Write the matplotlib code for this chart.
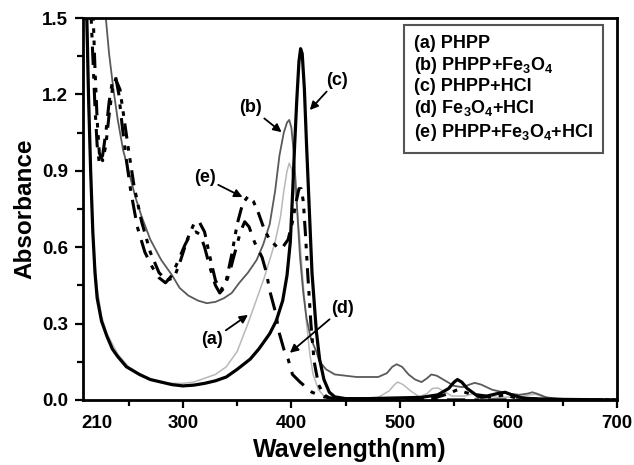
import numpy as np
import matplotlib.pyplot as plt
from matplotlib.lines import Line2D

plt.rcParams['font.family'] = ['Liberation Sans', 'DejaVu Sans']
plt.rcParams['font.weight'] = 'bold'
plt.rcParams['mathtext.fontset'] = 'custom'
plt.rcParams['mathtext.rm'] = 'Liberation Sans:bold'
plt.rcParams['mathtext.bf'] = 'Liberation Sans:bold'

# (a) PHPP
wl_a = [210, 212, 214, 216, 218, 221, 225, 230, 240, 250, 260, 270, 280, 290, 300, 310, 320, 330, 340, 350,
        360, 365, 370, 375, 380, 385, 390, 393, 396, 398, 400, 402, 405, 408, 411, 414, 417, 420, 425, 430,
        440, 460, 480, 490, 495, 498, 503, 510, 518, 525, 530, 535, 540, 548, 560, 568, 575, 590, 610, 620,
        625, 630, 640, 660, 700]
abs_a = [1.6, 1.3, 1.0, 0.75, 0.58, 0.44, 0.33, 0.26, 0.18, 0.13, 0.1, 0.08, 0.07, 0.065, 0.065, 0.07, 0.085, 0.1, 0.13, 0.19,
         0.3, 0.36, 0.42, 0.48, 0.55, 0.62, 0.72, 0.82, 0.9, 0.93, 0.91, 0.86, 0.76, 0.62, 0.45, 0.3, 0.18, 0.1, 0.04, 0.015,
         0.008, 0.005, 0.01, 0.035, 0.06, 0.07, 0.06, 0.035, 0.012, 0.025, 0.045, 0.047, 0.035, 0.015, 0.015, 0.025, 0.02, 0.01, 0.012, 0.02,
         0.022, 0.015, 0.005, 0.002, 0.0]

# (b) PHPP+Fe3O4
wl_b = [229, 232, 236, 240, 245, 250, 256, 262, 270, 280, 290, 297, 305, 314, 322, 330, 338, 345, 352, 360,
        368, 374, 380, 385, 389, 393, 396, 398, 400, 402, 404, 406, 408, 411, 414, 418, 423, 426, 432, 440,
        460, 480, 488, 493, 497, 502, 508, 514, 520, 525, 529, 534, 540, 550, 558, 564, 569, 575, 585, 600,
        610, 618, 622, 626, 635, 645, 660, 700]
abs_b = [1.5, 1.36, 1.22, 1.1, 0.98, 0.9, 0.8, 0.72, 0.63, 0.55, 0.49, 0.44, 0.41, 0.39, 0.38, 0.385, 0.4, 0.42, 0.46, 0.5,
         0.55, 0.61, 0.69, 0.82, 0.96, 1.05, 1.09, 1.1, 1.07, 0.98, 0.85, 0.7, 0.56, 0.42, 0.32, 0.24, 0.19, 0.15, 0.12, 0.1,
         0.09, 0.09, 0.105, 0.13, 0.14, 0.13, 0.1, 0.08, 0.07, 0.085, 0.1, 0.095, 0.08, 0.055, 0.05, 0.06, 0.067, 0.06, 0.04, 0.025,
         0.02, 0.025, 0.03, 0.025, 0.01, 0.005, 0.002, 0.0]

# (c) PHPP+HCl
wl_c = [211, 213, 215, 217, 219, 221, 225, 230, 235, 240, 248, 260, 270, 280, 290, 300, 310, 320, 330, 340,
        350, 362, 370, 380, 386, 392, 396, 399, 401, 403, 405, 407, 408.5, 410, 412, 414, 416, 419, 423, 426,
        430, 435, 440, 450, 470, 500, 520, 535, 545, 550, 553, 557, 562, 570, 580, 590, 597, 603, 615, 650, 700]
abs_c = [1.6, 1.2, 0.9, 0.66, 0.5, 0.4, 0.31, 0.25, 0.2, 0.17, 0.13, 0.1, 0.08, 0.07, 0.06, 0.055, 0.058, 0.065, 0.075, 0.09,
         0.12, 0.16, 0.2, 0.26, 0.31, 0.39, 0.49, 0.62, 0.8, 1.0, 1.18, 1.33, 1.38, 1.36, 1.22, 1.0, 0.8, 0.5, 0.27, 0.16,
         0.08, 0.03, 0.012, 0.005, 0.005, 0.008, 0.01, 0.02, 0.045, 0.07, 0.08, 0.07, 0.045, 0.02, 0.015, 0.025, 0.03, 0.02, 0.005, 0.002, 0.0]

# (d) Fe3O4+HCl
wl_d = [215, 217, 219, 221, 223, 226, 229, 232, 235, 238, 241, 244, 248, 252, 258, 265, 272, 278, 284, 290,
        296, 302, 307, 312, 316, 320, 325, 330, 334, 338, 343, 348, 353, 357, 361, 366, 373, 377, 380, 385,
        389, 393, 397, 401, 408, 419, 430, 440, 460, 500, 550, 600, 700]
abs_d = [1.55, 1.35, 1.15, 1.0, 0.93, 0.96, 1.05, 1.17, 1.25, 1.27, 1.2, 1.08, 0.94, 0.82, 0.68, 0.58, 0.52, 0.48, 0.46, 0.49,
         0.55, 0.61, 0.65, 0.66, 0.65, 0.6, 0.52, 0.45, 0.42, 0.44, 0.5, 0.58, 0.66, 0.7, 0.68, 0.62, 0.56, 0.5, 0.43, 0.35,
         0.26, 0.2, 0.16, 0.1, 0.07, 0.03, 0.012, 0.005, 0.003, 0.0, 0.0, 0.0, 0.0]

# (e) PHPP+Fe3O4+HCl
wl_e = [217, 219, 221, 223, 226, 229, 232, 235, 238, 242, 246, 250, 255, 262, 270, 278, 285, 292, 298, 304,
        310, 315, 320, 325, 330, 335, 340, 345, 350, 355, 360, 365, 370, 375, 380, 387, 392, 397, 401, 404,
        407, 409, 411, 413, 415, 418, 421, 425, 430, 435, 445, 480, 530, 545, 553, 560, 575, 590, 597, 605, 640, 700]
abs_e = [1.55, 1.3, 1.1, 0.97, 0.94, 1.0, 1.12, 1.22, 1.26, 1.22, 1.1, 0.98, 0.84, 0.7, 0.58, 0.5, 0.47, 0.48, 0.55, 0.63,
         0.69, 0.7, 0.66, 0.56, 0.47, 0.43, 0.47, 0.57, 0.69, 0.77, 0.8, 0.78, 0.73, 0.67, 0.63, 0.6, 0.6, 0.63, 0.7, 0.77,
         0.83, 0.83, 0.78, 0.65, 0.5, 0.3, 0.15, 0.06, 0.02, 0.008, 0.003, 0.0, 0.005, 0.025, 0.04, 0.03, 0.01, 0.015, 0.02, 0.01, 0.0, 0.0]

labels = ['(a) PHPP', '(b) PHPP+Fe$_{3}$O$_{4}$', '(c) PHPP+HCl',
          '(d) Fe$_{3}$O$_{4}$+HCl', '(e) PHPP+Fe$_{3}$O$_{4}$+HCl']

xtick_vals = [300, 400, 500, 600, 700]
xtick_labels = ['300', '400', '500', '600', '700']
ytick_vals = [0.0, 0.3, 0.6, 0.9, 1.2, 1.5]

fig = plt.figure(figsize=(6.34, 4.65), dpi=100)
ax = fig.add_axes([0.131, 0.140, 0.842, 0.821])

ax.plot(wl_a, abs_a, color='#b8b8b8', lw=1.1)
ax.plot(wl_b, abs_b, color='#5a5a5a', lw=1.3)
ax.plot(wl_c, abs_c, color='black', lw=2.3)
ax.plot(wl_d, abs_d, color='black', lw=2.2, ls=(0, (6, 3, 1.5, 3)))
ax.plot(wl_e, abs_e, color='black', lw=2.2, ls=(0, (5, 2.5, 1.5, 2.5, 1.5, 2.5)))

ax.set_xlim(208, 700)
ax.set_ylim(0, 1.5)

# "210" sits a bit right of the axis edge, without its own tick
ax.set_xticks([221] + xtick_vals, ['210'] + xtick_labels)
ax.get_xticklines()[0].set_visible(False)
ax.get_xticklines()[1].set_visible(False)
ax.set_xticks([250, 350, 450, 550, 650], minor=True)
ax.set_yticks(ytick_vals, ['%.1f' % v for v in ytick_vals])
ax.set_yticks([0.15, 0.45, 0.75, 1.05, 1.35], minor=True)
ax.tick_params(which='both', direction='out', width=1.6, labelsize=13.5, pad=5)
ax.tick_params(which='major', length=6)
ax.tick_params(which='minor', length=4)
for s in ax.spines.values():
    s.set_linewidth(2)

ax.set_xlabel('Wavelength(nm)', fontsize=18, fontweight='bold', labelpad=4)
ax.set_ylabel('Absorbance', fontsize=17.5, fontweight='bold', labelpad=4)

handles = [Line2D([], [], lw=0) for _ in labels]
leg = ax.legend(handles, labels, loc='upper right', bbox_to_anchor=(0.974, 0.982),
                borderaxespad=0, handlelength=0, handletextpad=0, fontsize=13,
                labelspacing=0.15, fancybox=False, framealpha=1, borderpad=0.55)
leg.get_frame().set_edgecolor('#555555')
leg.get_frame().set_linewidth(1.5)

arrow = dict(arrowstyle='-|>', color='black', lw=1.3, mutation_scale=12, shrinkA=0, shrinkB=0)
ax.annotate('(b)', xy=(391, 1.052), xytext=(362, 1.15), ha='center', va='center',
            fontsize=13, fontweight='bold', arrowprops=arrow)
ax.annotate('(c)', xy=(417, 1.139), xytext=(442, 1.256), ha='center', va='center',
            fontsize=13, fontweight='bold', arrowprops=arrow)
ax.annotate('(e)', xy=(355, 0.797), xytext=(320, 0.872), ha='center', va='center',
            fontsize=13, fontweight='bold', arrowprops=arrow)
ax.annotate('(a)', xy=(360, 0.334), xytext=(327, 0.236), ha='center', va='center',
            fontsize=13, fontweight='bold', arrowprops=arrow)
ax.annotate('(d)', xy=(398.6, 0.185), xytext=(447.5, 0.361), ha='center', va='center',
            fontsize=13, fontweight='bold', arrowprops=arrow)

fig.savefig('out.png', dpi=100)
